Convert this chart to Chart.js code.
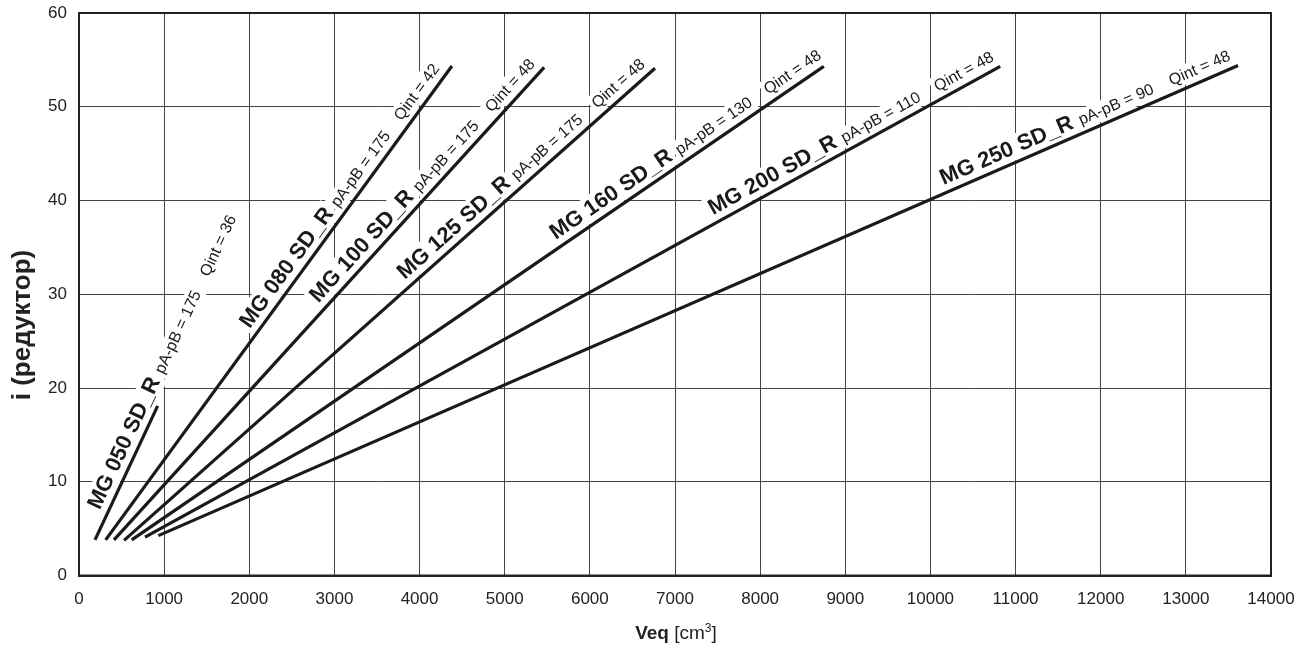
<!DOCTYPE html>
<html><head><meta charset="utf-8">
<script src="https://cdn.jsdelivr.net/npm/chart.js@4.4.1/dist/chart.umd.min.js"></script>
<style>html,body{margin:0;padding:0;background:#fff;}#wrap{width:1305px;height:650px;}</style>
</head><body><div id="wrap"><canvas id="c" width="1305" height="650"></canvas></div>
<script>
// ---- data ----
const seriesNames = ['MG 050 SD_R','MG 080 SD_R','MG 100 SD_R','MG 125 SD_R','MG 160 SD_R','MG 200 SD_R','MG 250 SD_R'];
const pressure = [175, 175, 175, 175, 130, 110, 90];
const qint = [36, 42, 48, 48, 48, 48, 48];
const xStart = [188, 313, 411, 529, 619, 775, 932];
const yStart = [3.8, 3.8, 3.8, 3.75, 3.8, 4.1, 4.25];
const xEnd = [924, 4380, 5463, 6765, 8748, 10820, 13613];
const yEnd = [18.1, 54.35, 54.2, 54.1, 54.3, 54.3, 54.4];
const xTickValues = [0,1000,2000,3000,4000,5000,6000,7000,8000,9000,10000,11000,12000,13000,14000];
const yTickValues = [0,10,20,30,40,50,60];
const xTitleBold = 'Veq';
const xTitleUnit = ' [cm';
const xTitleSup = '3';
const yTitle = 'i (редуктор)';

// ---- label placement (where along each line the label starts, in x units) ----
const labelAnchorX = [330, 2080, 2882, 3888, 5653, 7492, 10192];

const FONT = '"Liberation Sans", Arial, Helvetica, sans-serif';
const INK = '#1a1a1a';

const datasets = seriesNames.map((n, i) => ({
  label: n,
  data: [{x: xStart[i], y: yStart[i]}, {x: xEnd[i], y: yEnd[i]}],
  borderColor: INK, borderWidth: 3.2, pointRadius: 0, fill: false, tension: 0,
  borderCapStyle: 'butt'
}));

const labelPlugin = {
  id: 'lineLabels',
  beforeDatasetsDraw(chart) {
    const {ctx, scales: {x, y}} = chart;
    const perp = 8, gap1 = 7, gap2 = 18;
    const items = seriesNames.map((n, i) => {
      const x0 = x.getPixelForValue(xStart[i]), y0 = y.getPixelForValue(yStart[i]);
      const x1 = x.getPixelForValue(xEnd[i]), y1 = y.getPixelForValue(yEnd[i]);
      const ang = Math.atan2(y1 - y0, x1 - x0);
      const t = (labelAnchorX[i] - xStart[i]) / (xEnd[i] - xStart[i]);
      const px = x0 + t * (x1 - x0), py = y0 + t * (y1 - y0);
      ctx.font = 'bold 22px ' + FONT;
      const wb = ctx.measureText(n).width;
      ctx.font = '16px ' + FONT;
      const s1 = 'pA-pB = ' + pressure[i];
      const s2 = 'Qint = ' + qint[i];
      const w1 = ctx.measureText(s1).width;
      const w2 = ctx.measureText(s2).width;
      return {px, py, ang, segs: [
        {text: n, font: 'bold 22px ' + FONT, x: 0, w: wb, asc: 17, desc: 5},
        {text: s1, font: '16px ' + FONT, x: wb + gap1, w: w1, asc: 13, desc: 4},
        {text: s2, font: '16px ' + FONT, x: wb + gap1 + w1 + gap2, w: w2, asc: 13, desc: 4}
      ]};
    });
    ctx.save();
    items.forEach(it => {
      ctx.save();
      ctx.translate(it.px, it.py); ctx.rotate(it.ang);
      ctx.fillStyle = '#fff';
      it.segs.forEach(s => ctx.fillRect(s.x - 3, -perp - s.asc - 2, s.w + 6, s.asc + s.desc + 3));
      ctx.restore();
    });
    items.forEach(it => {
      ctx.save();
      ctx.translate(it.px, it.py); ctx.rotate(it.ang);
      ctx.fillStyle = INK; ctx.textBaseline = 'alphabetic'; ctx.textAlign = 'left';
      it.segs.forEach(s => { ctx.font = s.font; ctx.fillText(s.text, s.x, -perp); });
      ctx.restore();
    });
    ctx.restore();
  },
  afterDraw(chart) {
    const {ctx, chartArea: a} = chart;
    ctx.save();
    ctx.strokeStyle = '#222'; ctx.lineWidth = 2;
    ctx.strokeRect(a.left, a.top, a.right - a.left, a.bottom - a.top);
    ctx.fillStyle = '#222'; ctx.textBaseline = 'alphabetic'; ctx.textAlign = 'left';
    ctx.font = 'bold 19px ' + FONT; const wb = ctx.measureText(xTitleBold).width;
    ctx.font = '19px ' + FONT; const wu = ctx.measureText(xTitleUnit).width; const wc = ctx.measureText(']').width;
    ctx.font = '12px ' + FONT; const ws = ctx.measureText(xTitleSup).width;
    const total = wb + wu + ws + wc;
    let sx = 676 - total / 2; const by = 639;
    ctx.font = 'bold 19px ' + FONT; ctx.fillText(xTitleBold, sx, by); sx += wb;
    ctx.font = '19px ' + FONT; ctx.fillText(xTitleUnit, sx, by); sx += wu;
    ctx.font = '12px ' + FONT; ctx.fillText(xTitleSup, sx, by - 7); sx += ws;
    ctx.font = '19px ' + FONT; ctx.fillText(']', sx, by);
    ctx.save();
    ctx.translate(23, 325); ctx.rotate(-Math.PI / 2);
    ctx.font = 'bold 26px ' + FONT; ctx.textAlign = 'center'; ctx.textBaseline = 'middle';
    ctx.fillText(yTitle, 0, 0);
    ctx.restore();
    ctx.restore();
  }
};

new Chart(document.getElementById('c'), {
  type: 'line',
  data: {datasets},
  options: {
    responsive: false, animation: false, devicePixelRatio: 1,
    layout: {padding: {top: 13, right: 34, left: 0, bottom: 0}},
    plugins: {legend: {display: false}, tooltip: {enabled: false}},
    scales: {
      x: {
        type: 'linear', min: 0, max: 14000,
        afterBuildTicks: s => { s.ticks = xTickValues.map(v => ({value: v})); },
        afterFit: s => { s.height = 74.5; s.paddingLeft = 0; s.paddingRight = 0; },
        ticks: {color: '#222', font: {family: FONT, size: 17}, padding: 14, callback: v => String(v), maxRotation: 0, autoSkip: false},
        grid: {color: '#444', lineWidth: 1, drawTicks: false},
        border: {display: true, color: '#222', width: 2}
      },
      y: {
        type: 'linear', min: 0, max: 60,
        afterBuildTicks: s => { s.ticks = yTickValues.map(v => ({value: v})); },
        afterFit: s => { s.width = 79; s.paddingTop = 0; s.paddingBottom = 0; },
        ticks: {color: '#222', font: {family: FONT, size: 17}, padding: 12, callback: v => String(v)},
        grid: {color: '#444', lineWidth: 1, drawTicks: false},
        border: {display: true, color: '#222', width: 2}
      }
    }
  },
  plugins: [labelPlugin]
});
</script></body></html>
